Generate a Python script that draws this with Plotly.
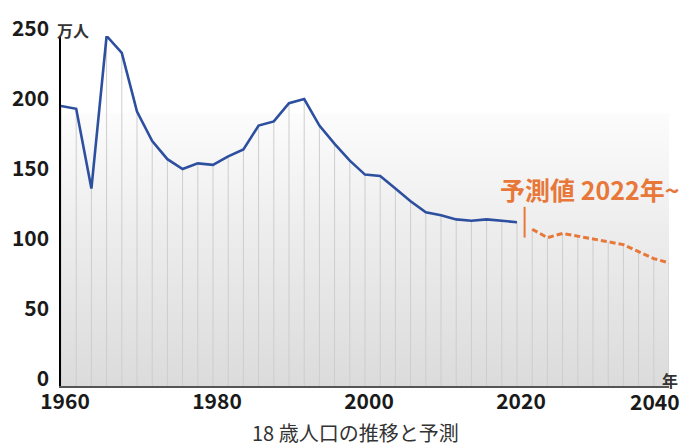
import plotly.graph_objects as go

# ---- data ----
actual_years = list(range(1960, 2021, 2))
actual_values = [200, 198, 141, 250, 238, 196, 175, 162, 155, 159, 158, 164, 169, 186, 189,
                 202, 205, 186, 173, 161, 151, 150, 141, 132, 124, 122, 119, 118, 119, 118, 117]
forecast_years = list(range(2022, 2041, 2))
forecast_values = [112, 106, 109, 107, 105, 103, 101, 96, 91, 88]

y_tick_vals = [0, 50, 100, 150, 200, 250]
x_tick_vals = [1960, 1980, 2000, 2020]
x_last_tick = 2040
unit_label = "万人"
year_label = "年"
forecast_label = "予測値 2022年~"
title_text = "18 歳人口の推移と予測"

# ---- style ----
BLUE = "#2d4f9f"
ORANGE = "#e8773a"
GRID = "#cdcdcd"
TEXT = "#1a1a1a"
FONT = "Noto Sans CJK JP"
x_range = [1960, 2040]
y_range = [0, 250]
bg_top = 195

fig = go.Figure()

# gradient background
fig.add_trace(go.Scatter(
    x=x_range, y=[bg_top, bg_top], mode="lines", line=dict(width=0),
    fill="tozeroy",
    fillgradient=dict(type="vertical",
                      colorscale=[[0, "#dbdbdb"], [0.55, "#ececec"], [1, "#fcfcfc"]],
                      start=0, stop=bg_top),
    hoverinfo="skip", showlegend=False))

# drop lines
all_years = actual_years + forecast_years
all_values = actual_values + forecast_values
dx, dy = [], []
for yr, v in zip(all_years, all_values):
    dx += [yr, yr, None]
    dy += [0, v, None]
fig.add_trace(go.Scatter(x=dx, y=dy, mode="lines", line=dict(color=GRID, width=1),
                         hoverinfo="skip", showlegend=False))

fig.add_trace(go.Scatter(x=actual_years, y=actual_values, mode="lines",
                         line=dict(color=BLUE, width=2.6), showlegend=False))
fig.add_trace(go.Scatter(x=forecast_years, y=forecast_values, mode="lines",
                         line=dict(color=ORANGE, width=3, dash="6px,3px"), showlegend=False))

# forecast marker
marker_x = forecast_years[0] - 1
fig.add_shape(type="line", x0=marker_x, x1=marker_x, y0=106, y1=128,
              line=dict(color=ORANGE, width=2))

fig.update_layout(
    width=688, height=446,
    margin=dict(l=58, r=19, t=32, b=60),
    paper_bgcolor="white", plot_bgcolor="white",
    font=dict(family=FONT, color=TEXT),
    xaxis=dict(range=x_range, showgrid=False, zeroline=False,
               showline=True, linecolor="#555555", linewidth=2,
               tickvals=x_tick_vals, ticktext=[str(v) for v in x_tick_vals],
               tickfont=dict(size=21, family=FONT, weight="bold"),
               ticks="", ticklabelshift=4, ticklabelstandoff=-4),
    yaxis=dict(range=y_range, showgrid=False, zeroline=False,
               showline=True, linecolor="#000000", linewidth=1.5,
               tickvals=y_tick_vals,
               tickfont=dict(size=21, family=FONT, weight="bold"),
               ticks="", ticklabelshift=-7, ticklabelstandoff=6),
)

fig.add_annotation(x=x_last_tick, y=0, xref="x", yref="y", text=str(x_last_tick),
                   showarrow=False, xanchor="right", yanchor="top", xshift=13, yshift=2,
                   font=dict(size=21, family=FONT, weight="bold", color=TEXT))
fig.add_annotation(x=0, y=y_range[1], xref="paper", yref="y", text=unit_label,
                   showarrow=False, xanchor="left", yanchor="middle", xshift=-6, yshift=6,
                   font=dict(size=16, family=FONT, weight="bold", color="#333333"))
fig.add_annotation(x=1, y=0, xref="paper", yref="y", text=year_label,
                   showarrow=False, xanchor="center", yanchor="bottom", xshift=1, yshift=-8,
                   font=dict(size=16, family=FONT, weight="bold", color="#333333"))
fig.add_annotation(x=marker_x, y=141, xref="x", yref="y", text=forecast_label,
                   showarrow=False, xanchor="left", yanchor="middle", xshift=-27,
                   font=dict(size=25, family=FONT, weight="bold", color=ORANGE))
fig.add_annotation(x=0.5, y=0, xref="paper", yref="paper", text=title_text,
                   showarrow=False, xanchor="center", yanchor="middle", xshift=-10, yshift=-46,
                   font=dict(size=20, family=FONT, color="#333333"))

fig.write_html("out.html")
